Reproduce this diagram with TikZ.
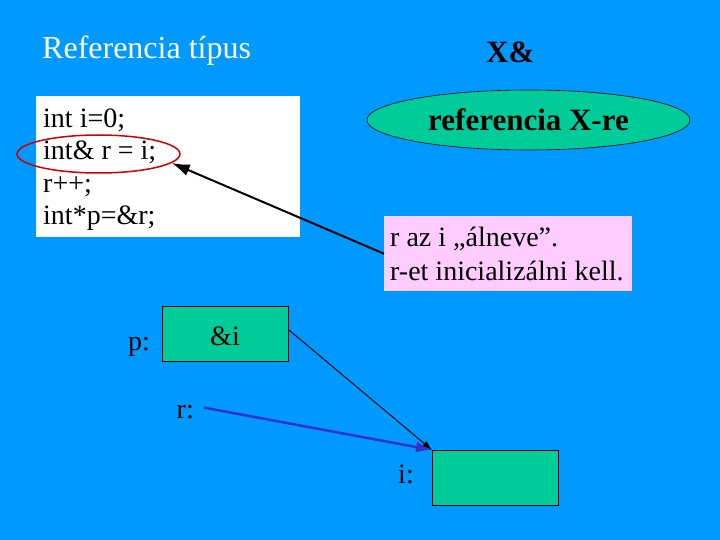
\documentclass[tikz,border=0pt]{standalone}
\usepackage{fontspec}
\setmainfont{Liberation Serif}
\usetikzlibrary{shapes.geometric,arrows.meta}
\definecolor{slidebg}{RGB}{0,153,255}
\definecolor{cellgreen}{RGB}{0,204,153}
\definecolor{notepink}{RGB}{255,204,255}
\definecolor{refblue}{RGB}{51,51,204}
\definecolor{markred}{RGB}{204,0,0}
\tikzset{
  body/.style={font=\fontsize{28}{32}\selectfont, inner sep=0pt},
  cell/.style={draw=black, fill=cellgreen, line width=0.8pt, minimum width=126pt, minimum height=55pt, inner sep=0pt},
}
\begin{document}
\begin{tikzpicture}[x=1pt, y=-1pt]
            \fill[slidebg] (0, 0) rectangle (720, 540);
            \useasboundingbox (0, 0) rectangle (720, 540);
            % headings
            \node[anchor=base west, inner sep=0pt, text=white, font=\fontsize{32}{36}\selectfont] (title) at (42, 59) {Referencia típus};
            \node[anchor=base west, inner sep=0pt, font=\bfseries\fontsize{31}{36}\selectfont] (type) at (486, 63) {X\&};
            % code
            \node[fill=white, anchor=north west, minimum width=264pt, minimum height=141pt, inner sep=0pt] (code) at (36, 96) {};
            \foreach \txt [count=\k] in {int i=0;, int\& r = i;, r++;, int*p=\&r;}
                \node[body, anchor=base west] (l\k) at (43, 95 + 32.5*\k) {\txt};
            \node[draw=markred, line width=1.5pt, ellipse, minimum width=163pt, minimum height=38pt] (hl) at (98.5, 154) {};
            \node[draw=black, fill=cellgreen, ellipse, line width=0.6pt, minimum width=323pt, minimum height=60pt, font=\bfseries\fontsize{31}{36}\selectfont] (kind) at (528.5, 120) {referencia X-re};
            % note
            \node[fill=notepink, anchor=north west, minimum width=248pt, minimum height=75pt, inner sep=0pt] (note) at (384, 216) {};
            \node[body, anchor=base west] (n1) at (390, 246) {r az i „álneve”.};
            \node[body, anchor=base west] (n2) at (390, 280) {r-et inicializálni kell.};
            \draw[-{Latex[length=18pt, width=12pt]}, line width=2pt] (note.west) -- (hl.-7);
            % memory
            \node[cell, anchor=north west] (pbox) at (162, 306) {};
            \node[body, anchor=base] (pval) at (225, 345) {\&i};
            \node[body, anchor=base east] (plab) at (150, 350) {p:};
            \node[body, anchor=base east] (rlab) at (194, 418) {r:};
            \node[cell, anchor=north west] (ibox) at (432, 450) {};
            \node[body, anchor=base east] (ilab) at (414, 483) {i:};
            \draw[-{Latex[length=10pt, width=7pt]}, line width=1pt] (pbox.east) ++(0, -4) -- (ibox.north west);
            \draw[-{Latex[length=16pt, width=11pt]}, line width=2.5pt, refblue] (rlab.east) ++(10, -4) -- (ibox.north west);
        \end{tikzpicture}
\end{document}
